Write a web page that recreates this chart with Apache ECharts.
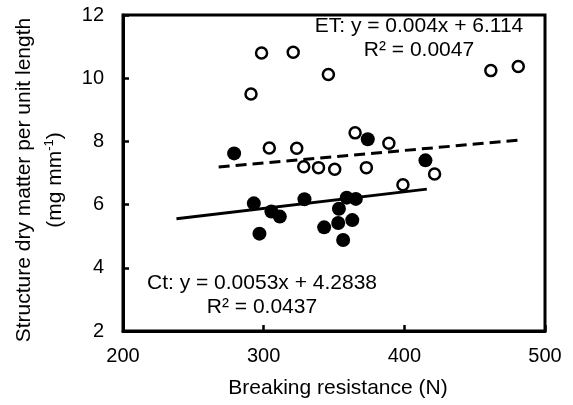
<!DOCTYPE html>
<html>
<head>
<meta charset="utf-8">
<script src="https://cdn.jsdelivr.net/npm/echarts@6/dist/echarts.min.js"></script>
<style>
html,body{margin:0;padding:0;background:#fff;}
#chart{width:573px;height:405px;}
</style>
</head>
<body>
<div id="chart"></div>
<script>
// Ct (filled circles)
var ctX = [279, 374, 415, 293, 305.5, 311.5, 329, 359, 365.5, 353.5, 363, 353, 343, 297, 356.5];
var ctY = [7.62, 8.07, 7.40, 6.04, 5.78, 5.62, 6.17, 6.22, 6.18, 5.87, 5.51, 5.42, 5.28, 5.08, 4.88];
// ET (open circles)
var etX = [298.5, 321, 346, 291, 461.5, 481, 304, 323.5, 365, 389, 328.5, 339, 350.5, 373, 399, 421.5];
var etY = [10.80, 10.82, 10.12, 9.50, 10.24, 10.37, 7.79, 7.78, 8.27, 7.94, 7.20, 7.17, 7.12, 7.17, 6.63, 6.97];
// trendline end points
var ctTrendX = [238, 416];
var ctTrendY = [5.55, 6.49];
var etTrendX = [268, 482];
var etTrendY = [7.19, 8.04];
// axis ticks
var xTicks = [200, 300, 400, 500];
var yTicks = [2, 4, 6, 8, 10, 12];
// texts
var etLabel = ['ET: y = 0.004x + 6.114', 'R² = 0.0047'];
var ctLabel = ['Ct: y = 0.0053x + 4.2838', 'R² = 0.0437'];
var xTitle = 'Breaking resistance (N)';
var yTitle1 = 'Structure dry matter per unit length';

function pairs(xs, ys){ return xs.map(function(x,i){ return [x, ys[i]]; }); }

var FONT = '"Liberation Sans", Arial, sans-serif';
var chart = echarts.init(document.getElementById('chart'));
var option = {
  animation: false,
  backgroundColor: '#fff',
  grid: {left: 123, right: 28, top: 15, bottom: 74, show: true, borderColor: '#000', borderWidth: 3, backgroundColor: 'transparent'},
  xAxis: {
    type: 'value', min: xTicks[0], max: xTicks[xTicks.length-1], interval: 100,
    axisLine: {show: true, lineStyle: {color: '#000', width: 3}},
    axisTick: {show: true, inside: true, length: 6, lineStyle: {color: '#000', width: 2.5}},
    splitLine: {show: false},
    axisLabel: {color: '#000', fontSize: 20, fontFamily: FONT, margin: 15}
  },
  yAxis: {
    type: 'value', min: yTicks[0], max: yTicks[yTicks.length-1], interval: 2,
    axisLine: {show: true, lineStyle: {color: '#000', width: 3}},
    axisTick: {show: true, inside: true, length: 6, lineStyle: {color: '#000', width: 2.5}},
    splitLine: {show: false},
    axisLabel: {color: '#000', fontSize: 20, fontFamily: FONT, margin: 19}
  },
  series: [
    {type: 'scatter', name: 'ET', data: pairs(etX, etY), symbol: 'circle', symbolSize: 11,
     itemStyle: {color: '#fff', borderColor: '#000', borderWidth: 2.5, opacity: 1}, z: 2},
    {type: 'scatter', name: 'Ct', data: pairs(ctX, ctY), symbol: 'circle', symbolSize: 14,
     itemStyle: {color: '#000', opacity: 1}, z: 3},
    {type: 'line', data: pairs(etTrendX, etTrendY), symbol: 'none',
     lineStyle: {color: '#000', width: 3, type: [11, 6]}, z: 4},
    {type: 'line', data: pairs(ctTrendX, ctTrendY), symbol: 'none',
     lineStyle: {color: '#000', width: 3}, z: 4}
  ],
  graphic: [
    {type: 'text', x: 419, y: 38, style: {text: etLabel.join('\n'), font: '21px ' + FONT, fill: '#000', align: 'center', verticalAlign: 'middle', lineHeight: 24}, z: 10},
    {type: 'text', x: 262, y: 295, style: {text: ctLabel.join('\n'), font: '21px ' + FONT, fill: '#000', align: 'center', verticalAlign: 'middle', lineHeight: 24}, z: 10},
    {type: 'text', x: 338, y: 388, style: {text: xTitle, font: '21px ' + FONT, fill: '#000', align: 'center', verticalAlign: 'middle'}, z: 10},
    {type: 'text', x: 24, y: 180, rotation: Math.PI/2, style: {text: yTitle1, font: '21px ' + FONT, fill: '#000', align: 'center', verticalAlign: 'middle'}, z: 10},
    {type: 'text', x: 54, y: 180, rotation: Math.PI/2, style: {
      text: '{n|(mg mm}{s|-1}{n|)}', align: 'center', verticalAlign: 'middle',
      rich: {
        n: {font: '21px ' + FONT, fill: '#000', verticalAlign: 'bottom'},
        s: {font: '13px ' + FONT, fill: '#000', verticalAlign: 'top', padding: [0, 0, 10, 0]}
      }}, z: 10}
  ]
};
chart.setOption(option);
</script>
</body>
</html>
